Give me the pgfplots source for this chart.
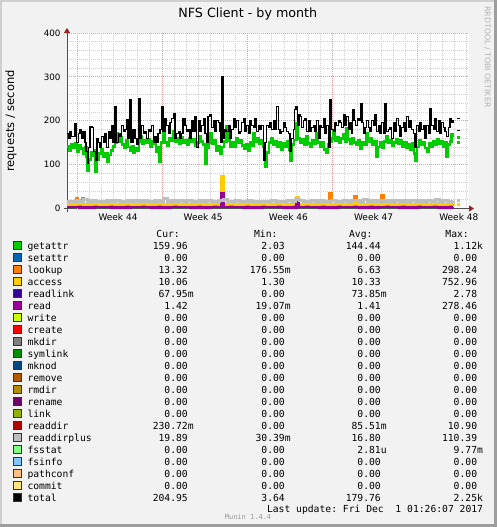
\documentclass[border=0pt]{standalone}
\usepackage{pgfplots}
\pgfplotsset{compat=1.18}
\usepackage{fontspec}
\usetikzlibrary{arrows.meta}
\newfontfamily\dejavu{DejaVu Sans}
\newfontfamily\mono{DejaVu Sans Mono}

\definecolor{canvas}{HTML}{F2F2F2}
\definecolor{shadea}{HTML}{CFCFCF}
\definecolor{shadeb}{HTML}{9E9E9E}
\definecolor{mgrid}{HTML}{F09A9A}
\definecolor{ngrid}{HTML}{D0D0D0}
\definecolor{axisc}{HTML}{505050}
\definecolor{arrowc}{HTML}{9B2020}
\definecolor{cgetattr}{HTML}{00CC00}
\definecolor{csetattr}{HTML}{0066B3}
\definecolor{clookup}{HTML}{FF8000}
\definecolor{caccess}{HTML}{FFCC00}
\definecolor{creadlink}{HTML}{330099}
\definecolor{cread}{HTML}{990099}
\definecolor{cwrite}{HTML}{CCFF00}
\definecolor{ccreate}{HTML}{FF0000}
\definecolor{cmkdir}{HTML}{808080}
\definecolor{csymlink}{HTML}{008F00}
\definecolor{cmknod}{HTML}{00487D}
\definecolor{cremove}{HTML}{B35A00}
\definecolor{crmdir}{HTML}{B38F00}
\definecolor{crename}{HTML}{6B006B}
\definecolor{clink}{HTML}{8FB300}
\definecolor{creaddir}{HTML}{B30000}
\definecolor{creaddirplus}{HTML}{BEBEBE}
\definecolor{cfsstat}{HTML}{80FF80}
\definecolor{cfsinfo}{HTML}{80C9FF}
\definecolor{cpathconf}{HTML}{FFC080}
\definecolor{ccommit}{HTML}{FFE680}

% one legend row: index, colour, name, cur, min, avg, max
\newcommand\lrow[7]{%
  \fill[#2, draw=black!80, line width=0.8pt] (13.5,{241.8+12*#1}) rectangle (21.0,{249.3+12*#1});
  \node[anchor=base west, inner sep=0] at (27.3,{249.7+12*#1}) {#3};
  \node[anchor=base east, inner sep=0] at (188,{249.7+12*#1}) {#4};
  \node[anchor=base east, inner sep=0] at (285,{249.7+12*#1}) {#5};
  \node[anchor=base east, inner sep=0] at (381,{249.7+12*#1}) {#6};
  \node[anchor=base east, inner sep=0] at (477.3,{249.7+12*#1}) {#7};
}
\newcommand\sfx[1]{\rlap{#1}}

\begin{document}
\begin{tikzpicture}
\begin{scope}[x=1pt, y=-1pt]
  \useasboundingbox (0,0) rectangle (497,527);
  \fill[canvas] (0,0) rectangle (497,527);
  \fill[shadea] (0,0) rectangle (497,2);
  \fill[shadea] (0,0) rectangle (2,527);
  \fill[shadeb] (494,0) rectangle (497,527);
  \fill[shadeb] (0,524) rectangle (497,527);
\end{scope}

\begin{axis}[
  at={(67pt,-208.5pt)}, anchor=south west,
  scale only axis, width=402pt, height=175.5pt,
  xmin=67, xmax=469, ymin=0, ymax=400,
  axis background/.style={fill=white},
  axis x line=bottom, axis y line=left,
  axis line style={draw=axisc, line width=0.9pt, shorten <=-3pt, shorten >=-5pt,
    -{Triangle[length=5pt, width=6pt, color=arrowc]}},
  major tick length=0pt, minor tick length=0pt,
  xtick={118,203.2,288.4,373.6,458.8},
  xticklabels={Week 44,Week 45,Week 46,Week 47,Week 48},
  extra x ticks={77,162.2,247.4,332.6,417.8},
  extra x tick labels={},
  extra x tick style={grid=major},
  minor xtick={77,89.17,101.34,113.51,125.69,137.86,150.03,162.2,174.37,186.54,198.71,
    210.89,223.06,235.23,247.4,259.57,271.74,283.91,296.09,308.26,320.43,332.6,344.77,
    356.94,369.11,381.29,393.46,405.63,417.8,429.97,442.14,454.31,466.49},
  xminorgrids,
  ytick={0,100,200,300,400}, minor y tick num=4,
  ymajorgrids, yminorgrids,
  major grid style={draw=mgrid, line width=0.8pt, dash pattern=on 1pt off 1pt},
  minor grid style={draw=ngrid, line width=0.8pt, dash pattern=on 1pt off 1pt},
  /pgf/number format/assume math mode=true,
  xticklabel style={font=\dejavu\fontsize{9}{10}\selectfont, yshift=-2pt},
  yticklabel style={font=\dejavu\fontsize{8.75}{10}\selectfont, xshift=-3pt},
  clip=true,
]
% getattr
\addplot[const plot, cgetattr, line width=2.8pt] coordinates {
(67,141)(69,132)(71,146)(73,138)(75,149)(77,130)(79,143)(81,136)(83,124)(85,140)
(86.5,118)(87.5,86)(89,112)(91,128)(92.5,120)(94,132)(95.7,85)(97,112)(99,125)
(101,134)(103,118)(105,126)(107.3,107)(109,122)(111,132)(113,141)(115,150)(116.7,171)
(118,152)(120,162)(122,145)(124,138)(126,156)(128,140)(130,133)(132,141)(133.3,128)
(135,137)(137,131)(139,152)(140.5,164)(142,148)(144,156)(146,150)(148,158)(150,140)
(152,152)(154,147)(156,130)(158,139)(159.3,107)(161,150)(163.3,194)(165,150)(167,143)
(169,160)(171,154)(173.3,175)(175,152)(177,160)(179,148)(181,163)(183,150)(185,156)
(187,145)(189,160)(191,152)(193,158)(195,143)(197,150)(199,164)(201,152)(203,145)
(205.3,103)(207,138)(208.5,150)(210,171)(212,148)(214,155)(216,133)(218,142)(220,125)
(222,140)(224,152)(226.7,187)(228,155)(230,140)(232,150)(234,141)(236,160)(238,150)
(240,156)(242,143)(244,137)(246,146)(248,133)(250,150)(252,144)(253.3,171)(255,152)
(257,160)(259,148)(261,155)(263,140)(265,95)(267,128)(269,150)(271,159)(273,145)
(275,152)(277,141)(279,150)(281,135)(283,148)(285,140)(287,152)(289,134)(290.5,110)
(292,145)(294,156)(296.7,194)(298,160)(300,150)(302,158)(304,145)(306.7,164)(308,148)
(310,140)(312,155)(314,147)(316,171)(318,150)(320,141)(322,150)(324,135)(326.7,128)
(328,145)(330,152)(332,160)(333.3,179)(335,155)(337,162)(339,150)(341,160)(343,168)
(345,152)(346.7,183)(348,158)(350,148)(352,160)(354,150)(356,145)(358,155)(360,137)
(362,150)(364,145)(366.7,171)(368,152)(370,160)(372,146)(374,152)(376.7,118)(378,140)
(380,150)(382,138)(384,152)(386.7,164)(388,150)(390,155)(392,143)(394,150)(396.7,158)
(398,148)(400,156)(402,140)(404,150)(406.7,138)(408,145)(410,135)(412,148)(414,125)
(415.5,110)(417,140)(419,155)(421,145)(423,150)(425,138)(427,130)(429,148)(431,140)
(433,152)(435,145)(437,158)(439,148)(441,152)(443,140)(445,150)(446.7,118)(448,145)
(450,152)(451.7,168)(453,162)
};
\addplot[cgetattr, line width=2.8pt] coordinates {(457,162)(460,162)};
\addplot[cgetattr, line width=2.8pt] coordinates {(456.5,150)(459.5,150)};
% lookup
\addplot[const plot, clookup, line width=2.6pt] coordinates {
(67,6)(75,7)(76.5,23)(78,6)(82,24)(84,7)(91,6)(107,7)(131,6)(163,7)(195,6)(227,7)
(259,6)(291,7)(329,34)(331.5,7)(354,27)(356.5,6)(381,29)(383.5,7)(415,6)(447,7)(453,6)
};
% access
\addplot[const plot, caccess, line width=3pt] coordinates {
(67,10)(75,11)(83,9)(91,11)(99,10)(107,12)(115,9)(123,11)(131,10)(139,12)(147,9)
(155,11)(163,10)(171,12)(179,10)(187,9)(195,11)(203,10)(211,12)(219,10)(221,72)
(223.5,10)(227,11)(235,9)(243,11)(251,10)(259,12)(267,9)(275,11)(283,10)(291,12)
(296,25)(298,10)(303,11)(311,9)(319,11)(327,10)(335,12)(343,10)(351,11)(359,9)
(367,11)(375,10)(383,12)(391,10)(399,11)(407,9)(415,11)(423,10)(431,12)(439,10)
(447,11)(453,10)
};
\addplot[caccess, line width=3pt] coordinates {(457,10)(460,10)};
% read
\addplot[const plot, cread, line width=2.4pt] coordinates {
(67,3)(79,2)(95,4)(111,2)(131,3)(151,2)(171,4)(191,2)(211,3)(221,36)(223.5,3)
(243,2)(263,4)(283,2)(296.5,15)(299,3)(319,2)(339,4)(359,2)(379,3)(399,2)(419,4)
(439,2)(453,3)
};
% readdirplus
\addplot[const plot, creaddirplus, line width=3pt] coordinates {
(67,17)(71,15)(75,19)(79,16)(83,20)(87,15)(91,18)(95,16)(99,17)(103,15)(107,18)
(111,16)(115,19)(119,17)(123,16)(127,18)(131,15)(135,19)(139,16)(143,18)(147,17)
(151,16)(155,19)(159,17)(163,22)(167,16)(171,18)(175,17)(179,19)(183,16)(187,18)
(191,15)(195,17)(199,19)(203,16)(207,18)(211,17)(215,16)(219,18)(223,20)(227,16)
(231,17)(235,19)(239,15)(243,17)(247,18)(251,16)(255,17)(259,15)(263,17)(267,16)
(271,18)(275,15)(279,17)(283,16)(287,19)(291,17)(295,21)(299,18)(303,16)(307,17)
(311,19)(315,16)(319,18)(323,17)(327,16)(331,19)(335,17)(339,16)(343,18)(347,17)
(351,19)(355,18)(359,16)(363,20)(367,17)(371,19)(375,16)(379,18)(383,17)(387,19)
(391,16)(395,18)(399,17)(403,19)(407,16)(411,18)(415,17)(419,19)(423,16)(427,18)
(431,17)(435,20)(439,16)(443,18)(447,17)(451,16)(453,17)
};
\addplot[creaddirplus, line width=3pt] coordinates {(457,18)(460,18)};
% total
\addplot[const plot, black, line width=1.1pt] coordinates {
(67,171)(68.5,160)(70,176)(71.5,165)(75,194)(76.5,150)(78.3,170)(80,180)(81.7,160)
(83,175)(85,150)(86,130)(87.3,103)(88.7,140)(90,187)(92,185)(93.7,130)(95.7,110)
(97,160)(98.3,150)(100,140)(101.7,165)(103.3,150)(105,170)(106.7,140)(108.3,175)
(110,160)(112,190)(113,150)(115,232)(116,150)(118.3,170)(120,165)(121.7,190)
(123.3,175)(125,180)(126.7,202)(128,160)(129.7,248)(131,150)(133,180)(135,160)
(137,145)(138.7,251)(140,160)(141.7,190)(143.3,170)(145,175)(146.7,160)(148.3,180)
(150,175)(151.7,190)(153.3,150)(155,165)(156.7,150)(158,170)(160,180)(161.7,232)
(163,175)(165,205)(166.7,190)(168.3,170)(170,195)(171.7,205)(173.3,217)(175,160)
(176.7,170)(178.3,175)(180,160)(181.7,170)(183,205)(185,190)(186.7,175)(188,180)
(190,160)(191.7,200)(193,175)(195,210)(196.7,140)(198.3,200)(200,175)(201.7,190)
(203.3,205)(205,170)(206.7,150)(208,210)(210,214)(211.7,185)(213.3,200)(215,175)
(216.7,200)(218.3,195)(220,175)(221,150)(222,301)(223,160)(224,180)(226,175)
(228.3,190)(230,160)(231.7,180)(233.3,205)(235,185)(236.7,200)(238.3,170)(240,175)
(241.7,195)(243.3,205)(245,175)(246.7,190)(248.3,170)(250,200)(251.7,190)(253.3,185)
(255,205)(256.7,175)(258.3,190)(260,180)(261.7,190)(263.3,110)(265,150)(266.7,190)
(268.3,185)(270,195)(271.7,180)(273.3,200)(275,180)(276.7,232)(278.3,180)(280,170)
(281.7,175)(283.3,195)(285,185)(286.7,175)(288.3,170)(290,130)(291.7,160)(293.3,180)
(294.7,225)(296,232)(297.5,190)(299,215)(300,210)(301.7,185)(303.3,200)(305,205)
(306.7,175)(308.3,200)(310,175)(311.7,185)(313.3,190)(315,175)(316.7,200)(318.3,160)
(320,190)(321.7,185)(323.3,205)(325,170)(326.7,190)(328.3,140)(330,248)(331.7,180)
(333.3,175)(335,195)(336.7,190)(338.3,200)(340,195)(341.7,185)(343.3,215)(345,190)
(346.7,210)(348.3,180)(350,195)(351.7,170)(352.7,225)(354,200)(355.7,190)(357.3,205)
(359,200)(360.7,240)(362,195)(363.7,170)(365,185)(366.7,200)(368.3,185)(370,175)
(371.7,200)(373.3,190)(375,215)(376.7,175)(378.3,190)(380,170)(381.7,195)(383.3,170)
(385,240)(386.7,175)(388.3,180)(390,185)(391.7,160)(393.3,195)(395,175)(396.7,205)
(398.3,190)(400,165)(401.7,185)(403.3,195)(405,175)(406.7,210)(408.3,185)(410,200)
(411.7,180)(413.3,170)(415,140)(416.7,190)(418.3,175)(420,195)(421.7,180)(423.3,190)
(425,160)(426.7,190)(428.3,170)(430,228)(431.7,190)(433.3,180)(435,205)(436.7,175)
(438.3,200)(440,170)(441.7,195)(443.3,185)(445,175)(446.7,165)(448.3,185)(450,205)
(451.7,195)(453,202)
};
\addplot[black, line width=1.1pt] coordinates {(457,206)(460,206)};
\addplot[black, line width=1.1pt] coordinates {(456.5,177)(459.5,177)};
\end{axis}

\begin{scope}[x=1pt, y=-1pt]
  \node[font=\dejavu\fontsize{12.7}{14}\selectfont] at (247.8,13.5) {NFS Client - by month};
  \node[font=\dejavu\fontsize{11.5}{13}\selectfont, rotate=90] at (11,121) {requests / second};
  \node[font=\dejavu\fontsize{7.85}{9}\selectfont, rotate=-90, text=black!30] at (487.5,57) {RRDTOOL / TOBI OETIKER};
  \begin{scope}[font=\mono\fontsize{9.7}{11}\selectfont]
    \node[anchor=base east, inner sep=0] at (180,237) {Cur:};
    \node[anchor=base east, inner sep=0] at (277.7,237) {Min:};
    \node[anchor=base east, inner sep=0] at (372.7,237) {Avg:};
    \node[anchor=base east, inner sep=0] at (469,237) {Max:};
    \lrow{0}{cgetattr}{getattr}{159.96}{2.03}{144.44}{1.12\sfx{k}}
    \lrow{1}{csetattr}{setattr}{0.00}{0.00}{0.00}{0.00}
    \lrow{2}{clookup}{lookup}{13.32}{176.55\sfx{m}}{6.63}{298.24}
    \lrow{3}{caccess}{access}{10.06}{1.30}{10.33}{752.96}
    \lrow{4}{creadlink}{readlink}{67.95\sfx{m}}{0.00}{73.85\sfx{m}}{2.78}
    \lrow{5}{cread}{read}{1.42}{19.07\sfx{m}}{1.41}{278.46}
    \lrow{6}{cwrite}{write}{0.00}{0.00}{0.00}{0.00}
    \lrow{7}{ccreate}{create}{0.00}{0.00}{0.00}{0.00}
    \lrow{8}{cmkdir}{mkdir}{0.00}{0.00}{0.00}{0.00}
    \lrow{9}{csymlink}{symlink}{0.00}{0.00}{0.00}{0.00}
    \lrow{10}{cmknod}{mknod}{0.00}{0.00}{0.00}{0.00}
    \lrow{11}{cremove}{remove}{0.00}{0.00}{0.00}{0.00}
    \lrow{12}{crmdir}{rmdir}{0.00}{0.00}{0.00}{0.00}
    \lrow{13}{crename}{rename}{0.00}{0.00}{0.00}{0.00}
    \lrow{14}{clink}{link}{0.00}{0.00}{0.00}{0.00}
    \lrow{15}{creaddir}{readdir}{230.72\sfx{m}}{0.00}{85.51\sfx{m}}{10.90}
    \lrow{16}{creaddirplus}{readdirplus}{19.89}{30.39\sfx{m}}{16.80}{110.39}
    \lrow{17}{cfsstat}{fsstat}{0.00}{0.00}{2.81\sfx{u}}{9.77\sfx{m}}
    \lrow{18}{cfsinfo}{fsinfo}{0.00}{0.00}{0.00}{0.00}
    \lrow{19}{cpathconf}{pathconf}{0.00}{0.00}{0.00}{0.00}
    \lrow{20}{ccommit}{commit}{0.00}{0.00}{0.00}{0.00}
    \lrow{21}{black}{total}{204.95}{3.64}{179.76}{2.25\sfx{k}}
    \node[anchor=base east, inner sep=0] at (483.3,512.7) {Last update:\ Fri Dec\ \ 1 01:26:07 2017};
  \end{scope}
  \node[font=\mono\fontsize{7}{8}\selectfont, text=black!40] at (248,516.5) {Munin 1.4.4};
\end{scope}
\end{tikzpicture}
\end{document}
